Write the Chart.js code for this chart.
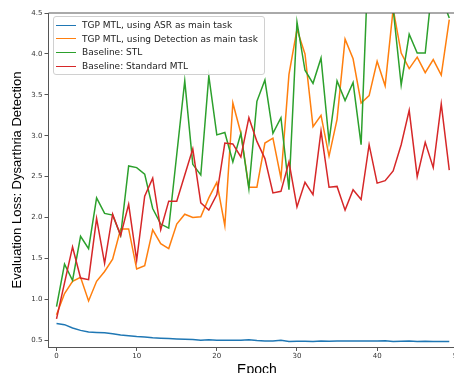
<!DOCTYPE html>
<html>
<head>
<meta charset="utf-8">
<script src="https://cdn.jsdelivr.net/npm/chart.js@4/dist/chart.umd.min.js"></script>
<style>
  html, body { margin: 0; padding: 0; background: #fff; overflow: hidden; width: 454px; height: 373px; }
  #wrap { position: relative; width: 480px; height: 390px; }
  canvas { position: absolute; left: 0; top: 0; }
  #legend {
    position: absolute; left: 53px; top: 16px; width: 210px; height: 57px;
    border: 1px solid #d0d0d0; border-radius: 3px; background: rgba(255,255,255,0.8);
    font-family: 'DejaVu Sans', sans-serif; font-size: 9px; color: #222;
  }
  .row { position: absolute; left: 0; height: 12px; line-height: 12px; white-space: nowrap; }
  .sw { position: absolute; left: 2px; top: 5.5px; width: 20px; height: 0; border-top: 1.5px solid; }
  .tx { position: absolute; left: 28px; top: 0; }
</style>
</head>
<body>
<div id="wrap">
  <canvas id="c" width="480" height="390"></canvas>
  <div id="legend"></div>
</div>
<script>
// ---- data ----
const epochs = Array.from({length: 50}, (_, i) => i);
const seriesLabels = [
  "TGP MTL, using ASR as main task",
  "TGP MTL, using Detection as main task",
  "Baseline: STL",
  "Baseline: Standard MTL"
];
const seriesColors = ["#1f77b4", "#ff7f0e", "#2ca02c", "#d62728"];
const asrMain = [0.705, 0.69, 0.65, 0.62, 0.60, 0.595, 0.59, 0.58, 0.565, 0.555,
  0.545, 0.54, 0.53, 0.525, 0.52, 0.515, 0.512, 0.51, 0.50, 0.505,
  0.50, 0.50, 0.50, 0.50, 0.505, 0.495, 0.49, 0.49, 0.50, 0.485,
  0.487, 0.487, 0.483, 0.49, 0.488, 0.49, 0.49, 0.49, 0.49, 0.49,
  0.49, 0.493, 0.485, 0.487, 0.49, 0.485, 0.487, 0.485, 0.485, 0.485];
const detectionMain = [0.81, 1.07, 1.22, 1.27, 0.98, 1.22, 1.34, 1.49, 1.86, 1.86,
  1.37, 1.41, 1.85, 1.68, 1.62, 1.92, 2.04, 2.00, 2.01, 2.24,
  2.43, 1.90, 3.40, 3.03, 2.37, 2.37, 2.91, 2.97, 2.48, 3.75,
  4.30, 4.00, 3.11, 3.25, 2.75, 3.20, 4.18, 3.94, 3.40, 3.49,
  3.91, 3.61, 4.55, 4.01, 3.82, 3.96, 3.77, 3.93, 3.74, 4.42];
const stl = [0.91, 1.43, 1.23, 1.77, 1.62, 2.24, 2.05, 2.03, 1.78, 2.63,
  2.61, 2.53, 2.11, 1.92, 1.87, 2.77, 3.67, 2.65, 2.52, 3.73,
  3.01, 3.04, 2.68, 3.03, 2.35, 3.42, 3.68, 3.03, 3.22, 2.34,
  4.39, 3.80, 3.64, 3.95, 2.93, 3.67, 3.43, 3.65, 2.89, 5.40,
  5.20, 5.00, 4.55, 3.62, 4.24, 4.01, 4.01, 4.96, 4.70, 4.44];
const standardMtl = [0.76, 1.20, 1.64, 1.26, 1.24, 1.99, 1.44, 2.04, 1.78, 2.16,
  1.48, 2.26, 2.48, 1.85, 2.20, 2.20, 2.52, 2.84, 2.18, 2.09,
  2.28, 2.91, 2.90, 2.74, 3.22, 2.93, 2.72, 2.30, 2.32, 2.68,
  2.13, 2.43, 2.28, 3.06, 2.37, 2.38, 2.09, 2.34, 2.22, 2.89,
  2.42, 2.45, 2.57, 2.89, 3.31, 2.50, 2.92, 2.61, 3.39, 2.58];
const seriesValues = [asrMain, detectionMain, stl, standardMtl];
const yTicks = [0.5, 1.0, 1.5, 2.0, 2.5, 3.0, 3.5, 4.0, 4.5];
const xTicks = [0, 10, 20, 30, 40, 50];
const xTitle = "Epoch";
const yTitle = "Evaluation Loss: Dysarthria Detection";

// ---- chart ----
Chart.defaults.font.family = "'DejaVu Sans', sans-serif";
Chart.defaults.color = '#333';

const datasets = seriesValues.map((vals, i) => ({
  label: seriesLabels[i],
  data: epochs.map((e, j) => ({x: e, y: vals[j]})),
  borderColor: seriesColors[i],
  backgroundColor: seriesColors[i],
  borderWidth: 1.5,
  pointRadius: 0,
  tension: 0,
  clip: 0,
  order: seriesValues.length - i
}));

const frame = {
  id: 'frame',
  afterDatasetsDraw(chart) {
    const {ctx, chartArea: a} = chart;
    ctx.save();
    ctx.strokeStyle = '#555';
    ctx.lineWidth = 1;
    ctx.beginPath();
    ctx.moveTo(a.left, a.top);
    ctx.lineTo(a.right, a.top);
    ctx.stroke();
    ctx.restore();
  }
};

new Chart(document.getElementById('c'), {
  type: 'line',
  data: { datasets },
  plugins: [frame],
  options: {
    responsive: false,
    animation: false,
    devicePixelRatio: 1,
    layout: { padding: { top: 13, right: 14.7, bottom: 0, left: 0 } },
    plugins: { legend: { display: false }, tooltip: { enabled: false } },
    scales: {
      x: {
        type: 'linear',
        min: -1, max: 51,
        afterFit: s => { s.height = 43; },
        afterBuildTicks: s => { s.ticks = xTicks.map(v => ({value: v})); },
        ticks: { font: { size: 7 }, padding: 1, maxRotation: 0, autoSkip: false, color: '#333' },
        grid: { drawOnChartArea: false, drawTicks: true, tickLength: 4, color: '#555' },
        border: { display: true, color: '#555', width: 1 },
        title: { display: true, text: xTitle, color: '#000',
          font: { family: "'Liberation Sans', Arial, sans-serif", size: 14 },
          padding: { top: 0, bottom: 11 } }
      },
      y: {
        type: 'linear',
        min: 0.417, max: 4.5,
        afterFit: s => { s.width = 48.5; },
        afterBuildTicks: s => { s.ticks = yTicks.map(v => ({value: v})); },
        ticks: { font: { size: 7 }, padding: 2, color: '#333',
          callback: v => Number(v).toFixed(1) },
        grid: { drawOnChartArea: false, drawTicks: true, tickLength: 4, color: '#555' },
        border: { display: true, color: '#555', width: 1 },
        title: { display: true, text: yTitle, color: '#000',
          font: { family: "'Liberation Sans', Arial, sans-serif", size: 13 },
          padding: { top: 10, bottom: 0 } }
      }
    }
  }
});

// ---- legend (HTML text) ----
const legend = document.getElementById('legend');
const rowTops = [2, 15.7, 29.4, 43];
seriesLabels.forEach((lab, i) => {
  const r = document.createElement('div');
  r.className = 'row';
  r.style.top = rowTops[i] + 'px';
  const sw = document.createElement('span');
  sw.className = 'sw';
  sw.style.borderColor = seriesColors[i];
  const tx = document.createElement('span');
  tx.className = 'tx';
  tx.textContent = lab;
  r.appendChild(sw); r.appendChild(tx);
  legend.appendChild(r);
});
</script>
</body>
</html>
